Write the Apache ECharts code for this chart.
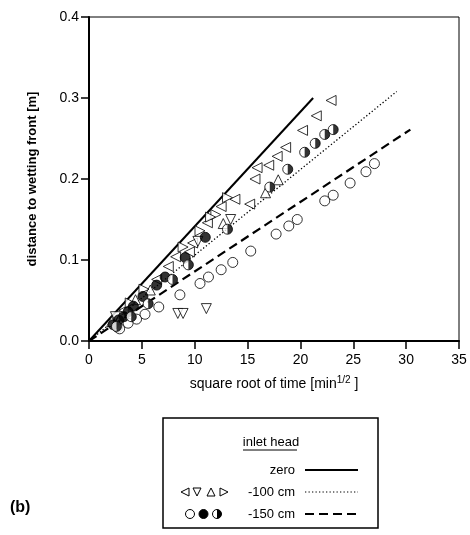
<!DOCTYPE html>
<html>
<head>
<meta charset="utf-8">
<script src="https://cdn.jsdelivr.net/npm/echarts@6/dist/echarts.min.js"></script>
<style>
  html, body { margin: 0; padding: 0; background: #fff; }
  #main { width: 470px; height: 535px; }
</style>
</head>
<body>
<div id="main"></div>
<script>
    // fitted lines, [sqrt(t), depth]
    var zeroLine = [[0, 0], [21.2, 0.300]];
    var line100 = [[0, 0], [29.1, 0.308]];
    var line150 = [[0, 0], [30.4, 0.261]];

    // -100 cm, four runs (triangle orientation)
    var triLeft = [[22.9, 0.297], [21.5, 0.278], [20.2, 0.260], [18.6, 0.239], [17.8, 0.228], [17.0, 0.217],
        [15.9, 0.214], [15.7, 0.200], [15.2, 0.169], [13.8, 0.175], [12.5, 0.166], [11.2, 0.146],
        [9.8, 0.121], [9.5, 0.110], [8.2, 0.104], [7.5, 0.092], [6.4, 0.076], [3.3, 0.038]];
    var triDown = [[13.4, 0.150], [10.3, 0.123], [2.5, 0.030], [8.4, 0.034], [8.9, 0.034], [11.1, 0.040]];
    var triUp = [[17.9, 0.199], [16.7, 0.183], [12.7, 0.145], [5.8, 0.063], [4.4, 0.051], [2.15, 0.024]];
    var triRight = [[13.1, 0.177], [12.0, 0.156], [11.5, 0.153], [10.5, 0.136], [8.9, 0.116], [5.2, 0.064], [3.9, 0.047]];

    // -150 cm, three runs
    var circOpen = [[2.7, 0.017], [2.9, 0.015], [3.7, 0.022], [4.5, 0.027], [5.3, 0.033], [6.6, 0.042],
        [8.6, 0.057], [10.5, 0.071], [11.3, 0.079], [12.5, 0.088], [13.6, 0.097], [15.3, 0.111],
        [17.7, 0.132], [18.9, 0.142], [19.7, 0.150], [22.3, 0.173], [23.1, 0.180], [24.7, 0.195],
        [26.2, 0.209], [27.0, 0.219]];
    var circFull = [[2.3, 0.020], [2.8, 0.026], [3.3, 0.030], [3.7, 0.036], [4.2, 0.043], [5.1, 0.055],
        [6.4, 0.069], [7.2, 0.079], [9.1, 0.103], [11.0, 0.128]];
    var circHalf = [[2.6, 0.018], [4.0, 0.030], [5.6, 0.046], [7.9, 0.076], [9.4, 0.094], [13.1, 0.138],
        [17.1, 0.190], [18.8, 0.212], [20.4, 0.233], [21.4, 0.244], [22.3, 0.255], [23.1, 0.261]];

    var font = "'Liberation Sans', Arial, sans-serif";
    // right half disc, the tiny left segment keeps the box square
    var halfDisc = 'path://M0,-10A10,10 0 0 1 0,10Z M-10,0L-9.99,0Z';

    var openStyle = { color: '#fff', borderColor: '#000', borderWidth: 1 };

    function triSeries(data, rot) {
        return {
            type: 'scatter', data: data, symbol: 'triangle', symbolSize: 10,
            symbolRotate: rot, itemStyle: openStyle, z: 3
        };
    }

    var myChart = echarts.init(document.getElementById('main'));
    myChart.setOption({
        animation: false,
        textStyle: { fontFamily: font },
        grid: {
            left: 89, right: 11, top: 17, bottom: 194,
            show: true, borderColor: '#000', borderWidth: 1
        },
        xAxis: {
            type: 'value', min: 0, max: 35, interval: 5,
            name: '{a|square root of time [min}{s|1/2}{a| ]}',
            nameLocation: 'middle', nameGap: 34,
            nameTextStyle: {
                rich: {
                    a: { fontSize: 14, fontFamily: font, color: '#000' },
                    s: { fontSize: 10, fontFamily: font, color: '#000', verticalAlign: 'top', padding: [0, 0, 8, 0] }
                }
            },
            axisLine: { lineStyle: { color: '#000', width: 2 } },
            axisTick: { inside: false, length: 8, lineStyle: { color: '#000', width: 1.5 } },
            axisLabel: { color: '#000', fontSize: 14, margin: 12 },
            splitLine: { show: false }
        },
        yAxis: {
            type: 'value', min: 0, max: 0.4, interval: 0.1,
            name: 'distance to wetting front [m]',
            nameLocation: 'middle', nameGap: 50,
            nameTextStyle: { fontSize: 13, fontWeight: 'bold', color: '#000' },
            axisLine: { lineStyle: { color: '#000', width: 2 } },
            axisTick: { inside: false, length: 8, lineStyle: { color: '#000', width: 1.5 } },
            axisLabel: { color: '#000', fontSize: 14, margin: 10, formatter: function (v) { return v.toFixed(1); } },
            splitLine: { show: false }
        },
        series: [
            {
                type: 'line', data: zeroLine, showSymbol: false, z: 2,
                lineStyle: { color: '#000', width: 2 }
            },
            {
                type: 'line', data: line100, showSymbol: false, z: 2,
                lineStyle: { color: '#000', width: 1.3, type: [1.3, 2.2] }
            },
            {
                type: 'line', data: line150, showSymbol: false, z: 2,
                lineStyle: { color: '#000', width: 2.2, type: [9, 5] }
            },
            triSeries(triLeft, 90),
            triSeries(triDown, 180),
            triSeries(triUp, 0),
            triSeries(triRight, -90),
            {
                type: 'scatter', data: circOpen, symbol: 'circle', symbolSize: 10,
                itemStyle: openStyle, z: 3
            },
            {
                type: 'scatter', data: circFull, symbol: 'circle', symbolSize: 10,
                itemStyle: { color: '#000', borderColor: '#000', borderWidth: 1 }, z: 4
            },
            {
                type: 'scatter', data: circHalf, symbol: 'circle', symbolSize: 10,
                itemStyle: openStyle, z: 4
            },
            {
                type: 'scatter', data: circHalf, symbol: halfDisc, symbolSize: 10,
                itemStyle: { color: '#000' }, z: 5, silent: true
            }
        ],
        graphic: [
            {
                type: 'rect', shape: { x: 163, y: 418, width: 215, height: 110 },
                style: { fill: 'none', stroke: '#000', lineWidth: 1.5 }
            },
            {
                type: 'text', x: 271, y: 442,
                style: { text: 'inlet head', font: '13px ' + font, fill: '#000', align: 'center', verticalAlign: 'middle' }
            },
            {
                type: 'line', shape: { x1: 243, y1: 450, x2: 297, y2: 450 },
                style: { stroke: '#000', lineWidth: 1 }
            },
            {
                type: 'text', x: 295, y: 470,
                style: { text: 'zero', font: '13px ' + font, fill: '#000', align: 'right', verticalAlign: 'middle' }
            },
            {
                type: 'text', x: 295, y: 492,
                style: { text: '-100 cm', font: '13px ' + font, fill: '#000', align: 'right', verticalAlign: 'middle' }
            },
            {
                type: 'text', x: 295, y: 514,
                style: { text: '-150 cm', font: '13px ' + font, fill: '#000', align: 'right', verticalAlign: 'middle' }
            },
            {
                type: 'line', shape: { x1: 305, y1: 470, x2: 358, y2: 470 },
                style: { stroke: '#000', lineWidth: 2 }
            },
            {
                type: 'line', shape: { x1: 305, y1: 492, x2: 358, y2: 492 },
                style: { stroke: '#000', lineWidth: 1.2, lineDash: [1.3, 2.2] }
            },
            {
                type: 'line', shape: { x1: 305, y1: 514, x2: 358, y2: 514 },
                style: { stroke: '#000', lineWidth: 2.2, lineDash: [9, 5] }
            },
            // legend marks
            { type: 'polygon', shape: { points: [[181, 492], [189, 488], [189, 496]] }, style: { fill: '#fff', stroke: '#000', lineWidth: 1 } },
            { type: 'polygon', shape: { points: [[193, 488], [201, 488], [197, 496]] }, style: { fill: '#fff', stroke: '#000', lineWidth: 1 } },
            { type: 'polygon', shape: { points: [[207, 496], [215, 496], [211, 488]] }, style: { fill: '#fff', stroke: '#000', lineWidth: 1 } },
            { type: 'polygon', shape: { points: [[220, 488], [228, 492], [220, 496]] }, style: { fill: '#fff', stroke: '#000', lineWidth: 1 } },
            { type: 'circle', shape: { cx: 190, cy: 514, r: 4.5 }, style: { fill: '#fff', stroke: '#000', lineWidth: 1 } },
            { type: 'circle', shape: { cx: 203.5, cy: 514, r: 4.5 }, style: { fill: '#000', stroke: '#000', lineWidth: 1 } },
            { type: 'circle', shape: { cx: 217, cy: 514, r: 4.5 }, style: { fill: '#fff', stroke: '#000', lineWidth: 1 } },
            {
                type: 'sector', shape: { cx: 217, cy: 514, r: 4.5, r0: 0, startAngle: -Math.PI / 2, endAngle: Math.PI / 2 },
                style: { fill: '#000' }
            },
            {
                type: 'text', x: 10, y: 508,
                style: { text: '(b)', font: 'bold 16px ' + font, fill: '#000', verticalAlign: 'middle' }
            }
        ]
    });
</script>
</body>
</html>
